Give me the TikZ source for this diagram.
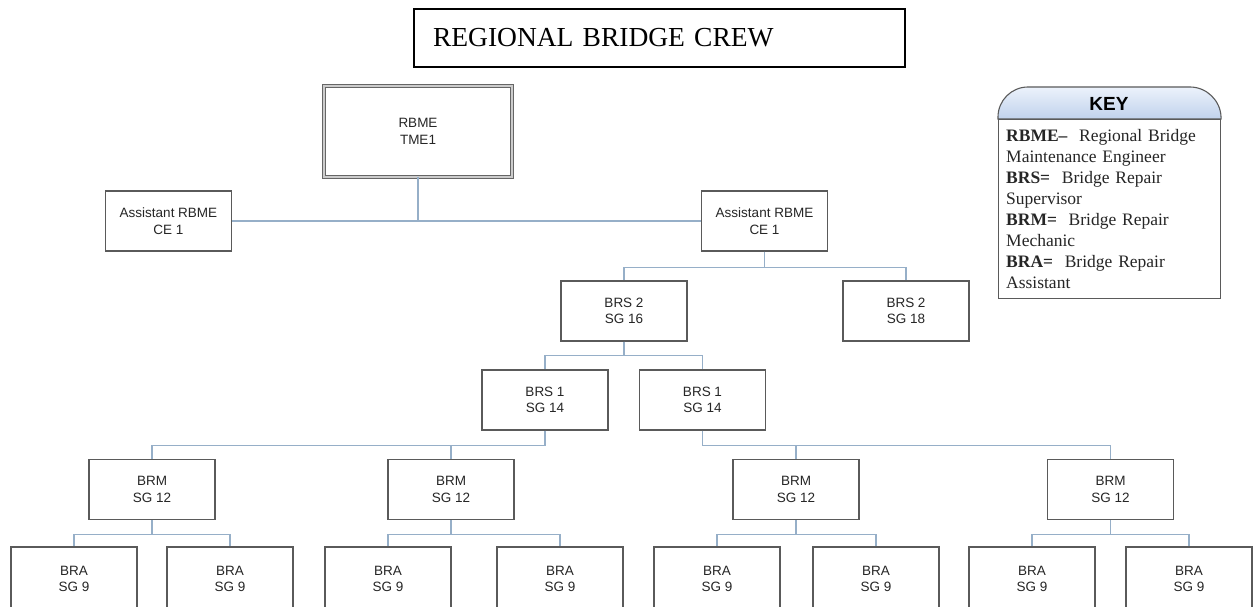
\documentclass[tikz,border=0pt]{standalone}
\usepackage{fontspec}
\setmainfont{Liberation Serif}
\setsansfont{Liberation Sans}
\usetikzlibrary{shadows}
\definecolor{linkblue}{RGB}{150,175,200}
\definecolor{boxgray}{RGB}{90,90,90}
\definecolor{keytop}{RGB}{236,242,251}
\definecolor{keybot}{RGB}{192,210,236}
\begin{document}
\begin{tikzpicture}[x=1pt,y=-1pt,
  post/.style={draw=boxgray, line width=1.1pt, fill=white,
    minimum width=126pt, minimum height=60pt, inner sep=2pt,
    align=center, text=black!85,
    font=\sffamily\fontsize{13.5}{16.5}\selectfont,
    drop shadow={shadow xshift=0.8pt, shadow yshift=-0.8pt, opacity=0.35, fill=black}},
  leaf/.style={post, minimum height=64pt},
  link/.style={draw=linkblue, line width=1.1pt}]
\useasboundingbox (0,0) rectangle (1256,607);
\fill[white] (0,0) rectangle (1256,607);

% heading
\node[draw=black, line width=2.2pt, minimum width=491pt, minimum height=58pt,
      text width=453pt, inner xsep=19pt, align=left,
      font=\fontsize{27.5}{30}\selectfont] (title) at (659.5,38) {REGIONAL BRIDGE CREW};

% engineer
\node[draw=gray!80!black, line width=1pt, double=gray!40, double distance=1.6pt,
      fill=white, minimum width=188pt, minimum height=91pt, align=center, text=black!85,
      font=\sffamily\fontsize{13.5}{16.5}\selectfont] (rbme) at (418,131.5) {RBME\\TME1};

% assistants
\node[post] (asstL) at (168.5,221) {Assistant RBME\\CE 1};
\node[post] (asstR) at (764.5,221) {Assistant RBME\\CE 1};

% supervisors
\node[post] (brs2L) at (624,311) {BRS 2\\SG 16};
\node[post] (brs2R) at (906,311) {BRS 2\\SG 18};
\node[post] (brs1L) at (545,400) {BRS 1\\SG 14};
\node[post] (brs1R) at (702.5,400) {BRS 1\\SG 14};

% mechanics
\node[post] (brm1) at (152,489.5) {BRM\\SG 12};
\node[post] (brm2) at (451,489.5) {BRM\\SG 12};
\node[post] (brm3) at (796,489.5) {BRM\\SG 12};
\node[post] (brm4) at (1110.5,489.5) {BRM\\SG 12};

% repair assistants
\node[leaf] (bra1) at (74,579) {BRA\\SG 9};
\node[leaf] (bra2) at (230,579) {BRA\\SG 9};
\node[leaf] (bra3) at (388,579) {BRA\\SG 9};
\node[leaf] (bra4) at (560,579) {BRA\\SG 9};
\node[leaf] (bra5) at (717,579) {BRA\\SG 9};
\node[leaf] (bra6) at (876,579) {BRA\\SG 9};
\node[leaf] (bra7) at (1032,579) {BRA\\SG 9};
\node[leaf] (bra8) at (1189,579) {BRA\\SG 9};

% connectors
\draw[link] (rbme.south) -- (rbme.south |- asstL.east);
\draw[link] (asstL.east) -- (asstR.west);
\draw[link] (asstR.south) -- ++(0,16) -| (brs2L.north);
\draw[link] (asstR.south) -- ++(0,16) -| (brs2R.north);
\draw[link] (brs2L.south) -- ++(0,14) -| (brs1L.north);
\draw[link] (brs2L.south) -- ++(0,14) -| (brs1R.north);
\draw[link] (brs1L.south) -- ++(0,15) -| (brm1.north);
\draw[link] (brs1L.south) -- ++(0,15) -| (brm2.north);
\draw[link] (brs1R.south) -- ++(0,15) -| (brm3.north);
\draw[link] (brs1R.south) -- ++(0,15) -| (brm4.north);
\draw[link] (brm1.south) -- ++(0,14) -| (bra1.north);
\draw[link] (brm1.south) -- ++(0,14) -| (bra2.north);
\draw[link] (brm2.south) -- ++(0,14) -| (bra3.north);
\draw[link] (brm2.south) -- ++(0,14) -| (bra4.north);
\draw[link] (brm3.south) -- ++(0,14) -| (bra5.north);
\draw[link] (brm3.south) -- ++(0,14) -| (bra6.north);
\draw[link] (brm4.south) -- ++(0,14) -| (bra7.north);
\draw[link] (brm4.south) -- ++(0,14) -| (bra8.north);

% key
\node[draw=boxgray, line width=1.1pt, fill=white, minimum width=222pt, minimum height=179pt,
      anchor=north west, inner sep=0pt] (keybody) at (998,119) {};
\path[draw=boxgray, line width=1.1pt, top color=keytop, bottom color=keybot]
  (keybody.north west) [rounded corners=30pt] -- ++(0,-32) -- ++(222,0)
  [sharp corners] -- (keybody.north east) -- cycle;
\node[font=\sffamily\bfseries\fontsize{19}{21}\selectfont] (keytitle) at (1109,104) {KEY};
\node[anchor=north west, inner sep=0pt, text width=214pt, align=left,
      font=\fontsize{17.5}{21}\selectfont, text=black!85] (keytext) at (1006,129.5)
  {\textbf{RBME–}~ Regional Bridge\\
   Maintenance Engineer\\
   \textbf{BRS=}~ Bridge Repair\\
   Supervisor\\
   \textbf{BRM=}~ Bridge Repair\\
   Mechanic\\
   \textbf{BRA=}~ Bridge Repair\\
   Assistant};
\end{tikzpicture}
\end{document}
